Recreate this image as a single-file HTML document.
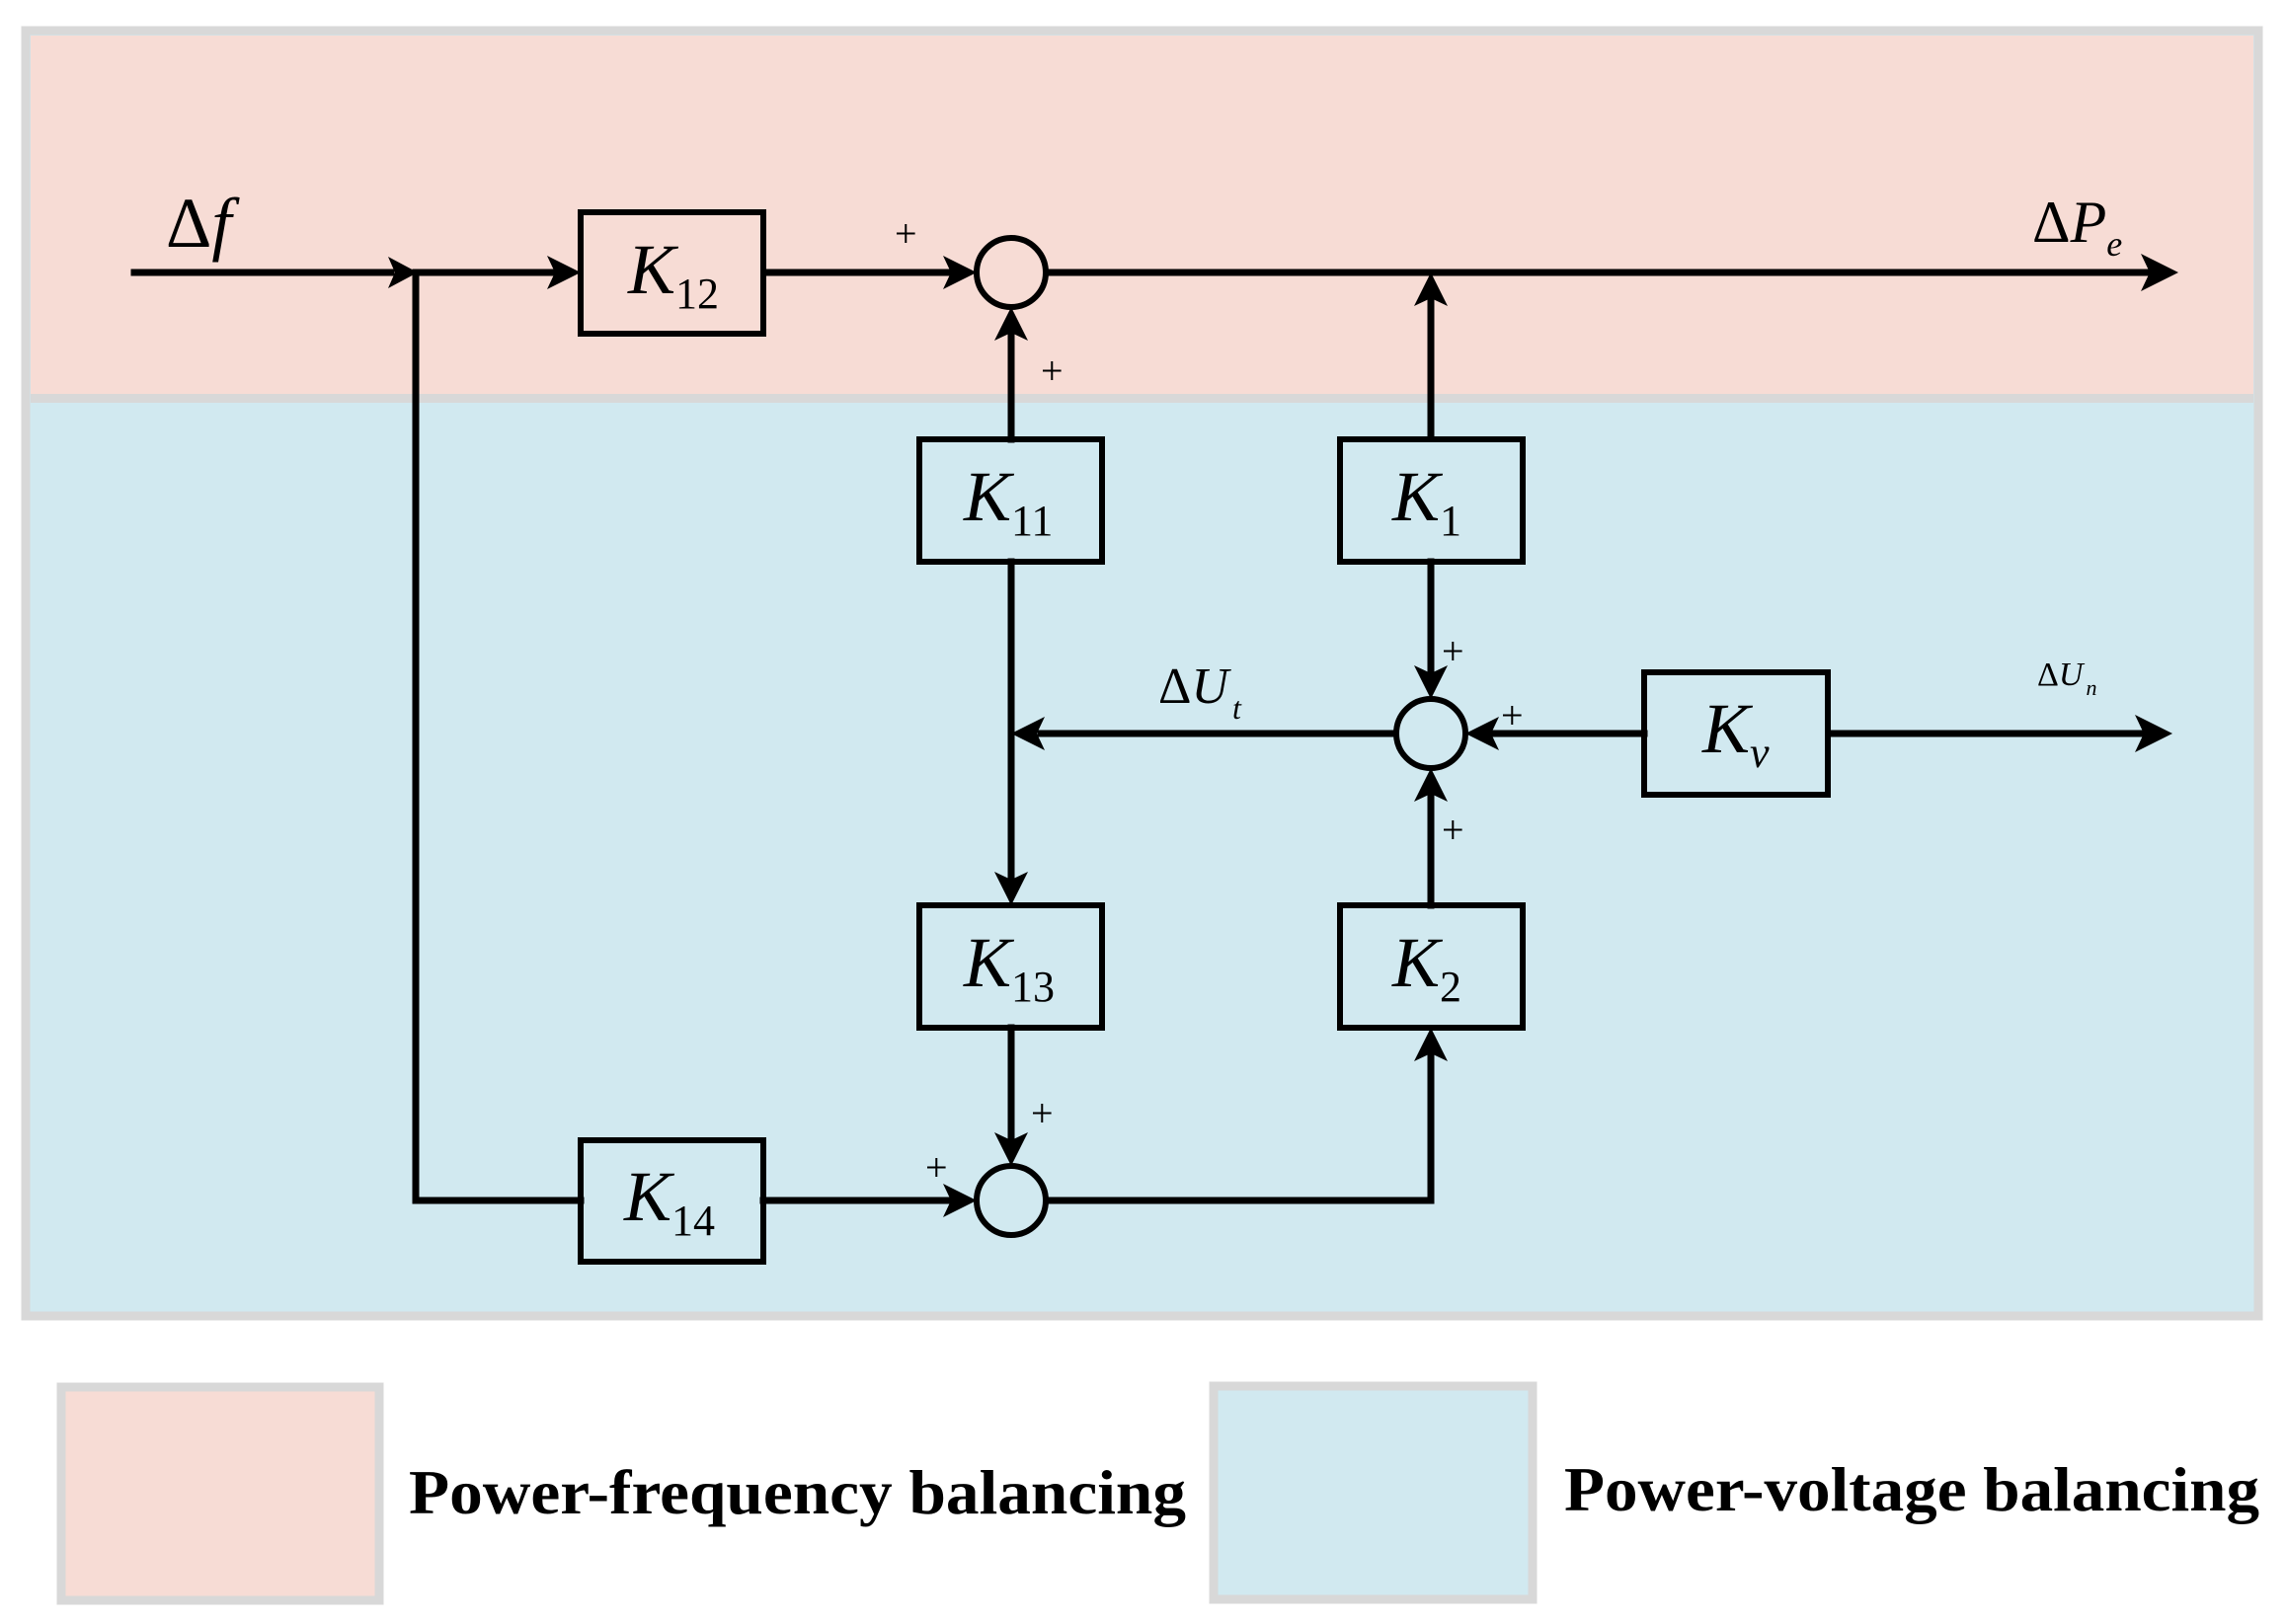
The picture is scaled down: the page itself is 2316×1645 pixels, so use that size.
<!DOCTYPE html>
<html><head><meta charset="utf-8"><style>
html,body{margin:0;padding:0;background:#fff;}
svg{display:block;}
text{font-family:"Liberation Serif",serif;}
.k{font-style:italic;font-size:72px;}
.s{font-size:44px;font-style:normal;}
.sv{font-size:44px;font-style:italic;}
.p{font-size:40px;}
</style></head><body>
<svg width="2316" height="1645" viewBox="0 0 2316 1645" xmlns="http://www.w3.org/2000/svg">
<rect x="26" y="31" width="2261" height="1302" fill="#d1e9f0" stroke="#d8d8d8" stroke-width="9"/>
<rect x="31" y="36" width="2251" height="364" fill="#f7dcd5"/>
<rect x="31" y="399" width="2251" height="9" fill="#d8d8d8"/>
<rect x="62" y="1405" width="322" height="216" fill="#f7dcd5" stroke="#d8d8d8" stroke-width="9"/>
<rect x="1229" y="1404" width="323" height="216" fill="#d1e9f0" stroke="#d8d8d8" stroke-width="9"/>
<text x="414" y="1533" font-size="64" font-weight="bold" textLength="787" lengthAdjust="spacingAndGlyphs">Power-frequency balancing</text>
<text x="1584" y="1530" font-size="64" font-weight="bold" textLength="704" lengthAdjust="spacingAndGlyphs">Power-voltage balancing</text>

<g stroke="#000" stroke-width="7" fill="none" stroke-linecap="square">
<line x1="136" y1="276" x2="396" y2="276"/>
<line x1="421" y1="276" x2="565" y2="276"/>
<line x1="774" y1="276" x2="963" y2="276"/>
<line x1="1060" y1="276" x2="2175" y2="276"/>
<line x1="421" y1="276" x2="421" y2="1216"/>
<line x1="421" y1="1216" x2="588" y2="1216"/>
<line x1="773" y1="1216" x2="963" y2="1216"/>
<line x1="1024" y1="445" x2="1024" y2="338"/>
<line x1="1024" y1="569" x2="1024" y2="890"/>
<line x1="1413" y1="743" x2="1054" y2="743"/>
<line x1="1449" y1="443" x2="1449" y2="304"/>
<line x1="1449" y1="569" x2="1449" y2="680"/>
<line x1="1665" y1="743" x2="1512" y2="743"/>
<line x1="1852" y1="743" x2="2168" y2="743"/>
<line x1="1449" y1="917" x2="1449" y2="806"/>
<line x1="1060" y1="1216" x2="1449" y2="1216"/>
<line x1="1449" y1="1216" x2="1449" y2="1070"/>
<line x1="1024" y1="1041" x2="1024" y2="1152"/>
</g>
<g stroke="#000" stroke-width="6" fill="none">
<rect x="588" y="215" width="185" height="123"/>
<rect x="931" y="445" width="185" height="124"/>
<rect x="1357" y="445" width="185" height="124"/>
<rect x="1665" y="681" width="186" height="124"/>
<rect x="931" y="917" width="185" height="124"/>
<rect x="1357" y="917" width="185" height="124"/>
<rect x="588" y="1155" width="185" height="123"/>
<circle cx="1024" cy="276" r="35"/>
<circle cx="1449" cy="743" r="35"/>
<circle cx="1024" cy="1216" r="35"/>
</g>
<g fill="#000">
<path d="M423 276 l-30 -16 l7 16 l-7 16z"/>
<path d="M588 276 l-34 -17 l8 17 l-8 17z"/>
<path d="M989 276 l-34 -17 l8 17 l-8 17z"/>
<path d="M2206 276 l-38 -19 l9 19 l-9 19z"/>
<path d="M2200 743 l-38 -19 l9 19 l-9 19z"/>
<path d="M989 1216 l-34 -17 l8 17 l-8 17z"/>
<path d="M1024 311 l-17 34 l17 -8 l17 8z"/>
<path d="M1449 276 l-17 34 l17 -8 l17 8z"/>
<path d="M1449 778 l-17 34 l17 -8 l17 8z"/>
<path d="M1449 1041 l-17 34 l17 -8 l17 8z"/>
<path d="M1449 708 l-17 -34 l17 8 l17 -8z"/>
<path d="M1024 917 l-17 -34 l17 8 l17 -8z"/>
<path d="M1024 1181 l-17 -34 l17 8 l17 -8z"/>
<path d="M1484 743 l34 -17 l-8 17 l8 17z"/>
<path d="M1024 743 l34 -17 l-8 17 l8 17z"/>
</g>
<g fill="#000">
<text x="168" y="250" font-size="72">Δ<tspan font-style="italic">f</tspan></text>
<text x="2058" y="245" font-size="60">Δ<tspan font-style="italic">P</tspan><tspan font-style="italic" font-size="36" dy="14">e</tspan></text>
<text x="1173" y="712" font-size="52">Δ<tspan font-style="italic">U</tspan><tspan font-style="italic" font-size="32" dy="16" dx="4">t</tspan></text>
<text x="2063" y="694" font-size="34">Δ<tspan font-style="italic">U</tspan><tspan font-style="italic" font-size="22" dy="10" dx="3">n</tspan></text>

<text class="k" x="636" y="297">K<tspan class="s" dy="15">12</tspan></text>
<text class="k" x="976" y="527">K<tspan class="s" dy="15">11</tspan></text>
<text class="k" x="1410" y="527">K<tspan class="s" dy="15">1</tspan></text>
<text class="k" x="1724" y="762">K<tspan class="sv" dy="15">v</tspan></text>
<text class="k" x="976" y="999">K<tspan class="s" dy="15">13</tspan></text>
<text class="k" x="1410" y="999">K<tspan class="s" dy="15">2</tspan></text>
<text class="k" x="632" y="1236">K<tspan class="s" dy="15">14</tspan></text>

<text class="p" x="906" y="250">+</text>
<text class="p" x="1054" y="389">+</text>
<text class="p" x="1460" y="673">+</text>
<text class="p" x="1520" y="738">+</text>
<text class="p" x="1460" y="854">+</text>
<text class="p" x="1044" y="1141">+</text>
<text class="p" x="937" y="1196">+</text>
</g>
</svg>
</body></html>
